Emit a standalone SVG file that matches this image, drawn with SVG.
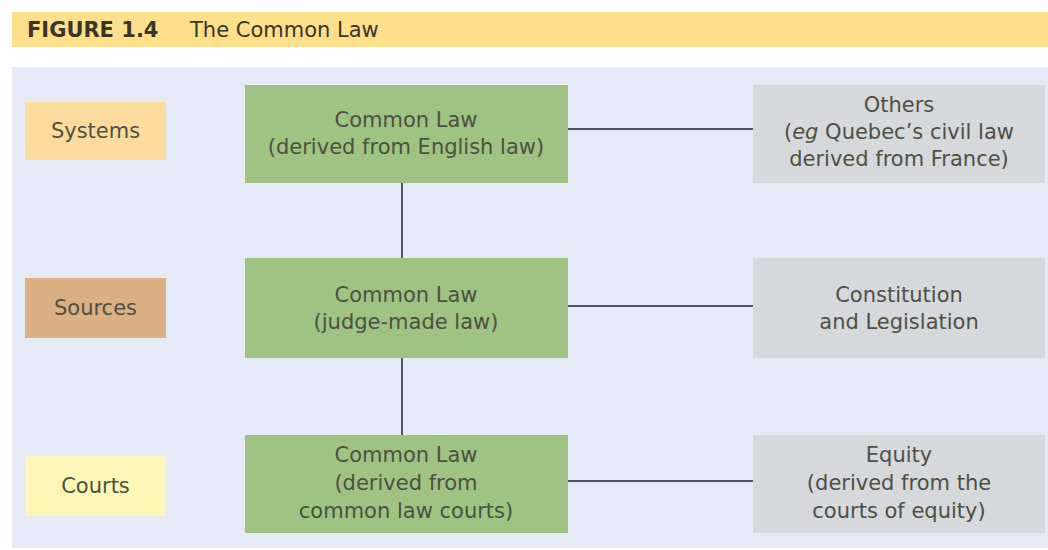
<svg xmlns="http://www.w3.org/2000/svg" width="1048" height="550" viewBox="0 0 1048 550">
<style>
.t{font-family:"DejaVu Sans","Noto Sans",sans-serif;font-size:21px;fill:#4d5044;text-anchor:middle}
.g{fill:#9ec383}
.r{fill:#d6d8db}
.ln{stroke:#4f5560;stroke-width:2;fill:none}
.h{font-family:"DejaVu Sans","Noto Sans",sans-serif;font-size:21px;fill:#3a3524}
</style>
<rect x="0" y="0" width="1048" height="550" fill="#ffffff"/>
<rect x="12" y="12" width="1036" height="35" fill="#fddf8c"/>
<rect x="12" y="47" width="1036" height="20" fill="#fefefe"/>
<rect x="12" y="67" width="1036" height="481" fill="#e5eaf6"/>
<text class="h" x="27" y="37"><tspan font-weight="bold">FIGURE 1.4</tspan><tspan x="190">The Common Law</tspan></text>
<g id="connectors">
<line class="ln" x1="402" y1="183" x2="402" y2="258"/>
<line class="ln" x1="402" y1="358" x2="402" y2="435"/>
<line class="ln" x1="568" y1="129" x2="753" y2="129"/>
<line class="ln" x1="568" y1="306" x2="753" y2="306"/>
<line class="ln" x1="568" y1="481" x2="753" y2="481"/>
</g>
<g id="systems"><rect x="25" y="102" width="141" height="58" fill="#fddb9e"/><text class="t" x="95.5" y="138">Systems</text></g>
<g id="sources"><rect x="25" y="278" width="141" height="60" fill="#dcb085"/><text class="t" x="95.5" y="315">Sources</text></g>
<g id="courts"><rect x="25" y="456" width="141" height="60" fill="#fef6b6"/><text class="t" x="95.5" y="493">Courts</text></g>
<g id="cl1"><rect class="g" x="245" y="85" width="323" height="98"/><text class="t" x="406" y="127">Common Law</text><text class="t" x="406" y="154">(derived from English law)</text></g>
<g id="cl2"><rect class="g" x="245" y="258" width="323" height="100"/><text class="t" x="406" y="302">Common Law</text><text class="t" x="406" y="329">(judge-made law)</text></g>
<g id="cl3"><rect class="g" x="245" y="435" width="323" height="98"/><text class="t" x="406" y="462">Common Law</text><text class="t" x="406" y="490">(derived from</text><text class="t" x="406" y="518">common law courts)</text></g>
<g id="others"><rect class="r" x="753" y="85" width="292" height="98"/><text class="t" x="899" y="112">Others</text><text class="t" x="899" y="139">(<tspan font-style="italic">eg</tspan> Quebec’s civil law</text><text class="t" x="899" y="166">derived from France)</text></g>
<g id="constitution"><rect class="r" x="753" y="258" width="292" height="100"/><text class="t" x="899" y="302">Constitution</text><text class="t" x="899" y="329">and Legislation</text></g>
<g id="equity"><rect class="r" x="753" y="435" width="292" height="98"/><text class="t" x="899" y="462">Equity</text><text class="t" x="899" y="490">(derived from the</text><text class="t" x="899" y="518">courts of equity)</text></g>
</svg>
